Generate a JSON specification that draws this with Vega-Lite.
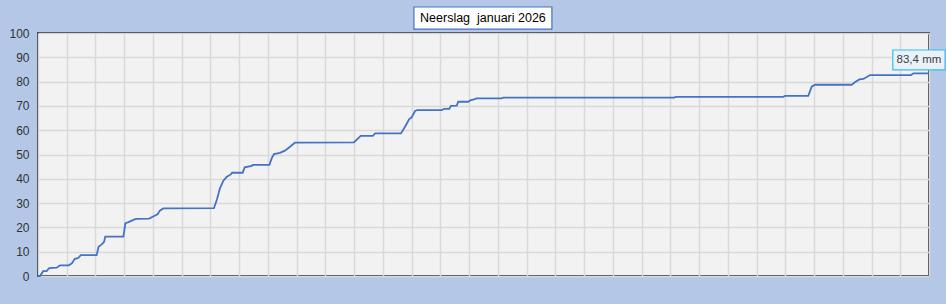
{
  "$schema": "https://vega.github.io/schema/vega-lite/v6.json",
  "width": 891,
  "height": 243,
  "autosize": {"type": "none"},
  "padding": {"left": 38, "top": 33, "right": 17, "bottom": 28},
  "background": "#b4c7e7",
  "config": {
    "view": {"fill": "#f2f2f2", "stroke": "#000000", "strokeWidth": 1.5},
    "font": "Liberation Sans",
    "axisX": {"labels": false, "ticks": false, "domain": false, "grid": true, "gridColor": "#d9d9d9", "gridWidth": 1.5},
    "axisY": {"ticks": false, "domain": false, "labelFont": "Liberation Sans", "labelFontSize": 12, "labelColor": "#333333", "labelPadding": 9, "grid": true, "gridColor": "#d9d9d9", "gridWidth": 1.5}
  },
  "layer": [
    {
      "data": {
        "values": [
          {"day": 0.0, "mm": 0.0},
          {"day": 0.07, "mm": 0.0},
          {"day": 0.18, "mm": 2.0},
          {"day": 0.30, "mm": 2.0},
          {"day": 0.39, "mm": 3.2},
          {"day": 0.65, "mm": 3.4},
          {"day": 0.77, "mm": 4.4},
          {"day": 1.07, "mm": 4.4},
          {"day": 1.18, "mm": 5.2},
          {"day": 1.28, "mm": 7.1},
          {"day": 1.39, "mm": 7.3},
          {"day": 1.49, "mm": 8.6},
          {"day": 2.04, "mm": 8.6},
          {"day": 2.11, "mm": 12.1},
          {"day": 2.20, "mm": 12.8},
          {"day": 2.30, "mm": 14.1},
          {"day": 2.34, "mm": 16.2},
          {"day": 2.97, "mm": 16.2},
          {"day": 3.04, "mm": 21.7},
          {"day": 3.13, "mm": 22.1},
          {"day": 3.30, "mm": 23.0},
          {"day": 3.41, "mm": 23.5},
          {"day": 3.87, "mm": 23.6},
          {"day": 3.99, "mm": 24.4},
          {"day": 4.16, "mm": 25.4},
          {"day": 4.24, "mm": 26.9},
          {"day": 4.36, "mm": 27.8},
          {"day": 6.12, "mm": 27.9},
          {"day": 6.22, "mm": 31.3},
          {"day": 6.33, "mm": 36.1},
          {"day": 6.45, "mm": 39.2},
          {"day": 6.57, "mm": 40.9},
          {"day": 6.71, "mm": 41.8},
          {"day": 6.75, "mm": 42.5},
          {"day": 7.12, "mm": 42.5},
          {"day": 7.19, "mm": 44.7},
          {"day": 7.44, "mm": 45.3},
          {"day": 7.47, "mm": 45.7},
          {"day": 8.05, "mm": 45.7},
          {"day": 8.13, "mm": 48.4},
          {"day": 8.21, "mm": 50.2},
          {"day": 8.42, "mm": 50.7},
          {"day": 8.59, "mm": 51.6},
          {"day": 8.77, "mm": 53.2},
          {"day": 8.94, "mm": 54.9},
          {"day": 10.99, "mm": 55.0},
          {"day": 11.23, "mm": 57.7},
          {"day": 11.65, "mm": 57.7},
          {"day": 11.73, "mm": 58.7},
          {"day": 12.63, "mm": 58.7},
          {"day": 12.77, "mm": 61.4},
          {"day": 12.91, "mm": 64.5},
          {"day": 13.00, "mm": 65.3},
          {"day": 13.12, "mm": 67.9},
          {"day": 13.20, "mm": 68.3},
          {"day": 14.05, "mm": 68.3},
          {"day": 14.13, "mm": 68.8},
          {"day": 14.31, "mm": 68.8},
          {"day": 14.37, "mm": 70.0},
          {"day": 14.57, "mm": 70.1},
          {"day": 14.62, "mm": 71.7},
          {"day": 14.97, "mm": 71.7},
          {"day": 15.06, "mm": 72.4},
          {"day": 15.17, "mm": 72.7},
          {"day": 15.26, "mm": 73.1},
          {"day": 16.13, "mm": 73.1},
          {"day": 16.19, "mm": 73.4},
          {"day": 22.13, "mm": 73.4},
          {"day": 22.20, "mm": 73.7},
          {"day": 25.93, "mm": 73.7},
          {"day": 25.99, "mm": 74.1},
          {"day": 26.80, "mm": 74.1},
          {"day": 26.92, "mm": 77.9},
          {"day": 27.03, "mm": 78.7},
          {"day": 28.31, "mm": 78.7},
          {"day": 28.43, "mm": 79.8},
          {"day": 28.58, "mm": 80.9},
          {"day": 28.72, "mm": 81.1},
          {"day": 28.95, "mm": 82.7},
          {"day": 30.37, "mm": 82.7},
          {"day": 30.46, "mm": 83.4},
          {"day": 31.0, "mm": 83.4}
        ]
      },
      "mark": {"type": "line", "color": "#4472c4", "strokeWidth": 1.8},
      "encoding": {
        "x": {
          "field": "day", "type": "quantitative",
          "scale": {"domain": [0, 31], "nice": false, "zero": false},
          "axis": {"title": null, "values": [0,1,2,3,4,5,6,7,8,9,10,11,12,13,14,15,16,17,18,19,20,21,22,23,24,25,26,27,28,29,30,31]}
        },
        "y": {
          "field": "mm", "type": "quantitative",
          "scale": {"domain": [0, 100], "nice": false},
          "axis": {"title": null, "values": [0,10,20,30,40,50,60,70,80,90,100]}
        }
      }
    },
    {
      "data": {"values": [{"label": "Neerslag\u00a0 januari 2026"}]},
      "mark": {"type": "rect", "fill": "#ffffff", "stroke": "#4472c4", "strokeWidth": 1.2},
      "encoding": {
        "x": {"datum": 13.08, "type": "quantitative", "axis": {"title": null, "values": [0,1,2,3,4,5,6,7,8,9,10,11,12,13,14,15,16,17,18,19,20,21,22,23,24,25,26,27,28,29,30,31]}},
        "x2": {"datum": 17.88},
        "y": {"datum": 110.7, "type": "quantitative", "axis": {"title": null, "values": [0,10,20,30,40,50,60,70,80,90,100]}},
        "y2": {"datum": 101.6}
      }
    },
    {
      "data": {"values": [{"label": "Neerslag\u00a0 januari 2026"}]},
      "mark": {"type": "text", "font": "Liberation Sans", "fontSize": 12.5, "color": "#000000", "align": "center", "baseline": "middle"},
      "encoding": {
        "x": {"datum": 15.48, "type": "quantitative", "axis": {"title": null, "values": [0,1,2,3,4,5,6,7,8,9,10,11,12,13,14,15,16,17,18,19,20,21,22,23,24,25,26,27,28,29,30,31]}},
        "y": {"datum": 106.2, "type": "quantitative", "axis": {"title": null, "values": [0,10,20,30,40,50,60,70,80,90,100]}},
        "text": {"field": "label"}
      }
    },
    {
      "data": {"values": [{"label": "83,4 mm"}]},
      "mark": {"type": "rect", "fill": "#eaf1fb", "stroke": "#33bdf2", "strokeWidth": 1.2},
      "encoding": {
        "x": {"datum": 29.74, "type": "quantitative", "axis": {"title": null, "values": [0,1,2,3,4,5,6,7,8,9,10,11,12,13,14,15,16,17,18,19,20,21,22,23,24,25,26,27,28,29,30,31]}},
        "x2": {"datum": 31.56},
        "y": {"datum": 93.0, "type": "quantitative", "axis": {"title": null, "values": [0,10,20,30,40,50,60,70,80,90,100]}},
        "y2": {"datum": 84.8}
      }
    },
    {
      "data": {"values": [{"label": "83,4 mm"}]},
      "mark": {"type": "text", "font": "Liberation Sans", "fontSize": 11.5, "color": "#404040", "align": "center", "baseline": "middle"},
      "encoding": {
        "x": {"datum": 30.65, "type": "quantitative", "axis": {"title": null, "values": [0,1,2,3,4,5,6,7,8,9,10,11,12,13,14,15,16,17,18,19,20,21,22,23,24,25,26,27,28,29,30,31]}},
        "y": {"datum": 88.9, "type": "quantitative", "axis": {"title": null, "values": [0,10,20,30,40,50,60,70,80,90,100]}},
        "text": {"field": "label"}
      }
    }
  ]
}
